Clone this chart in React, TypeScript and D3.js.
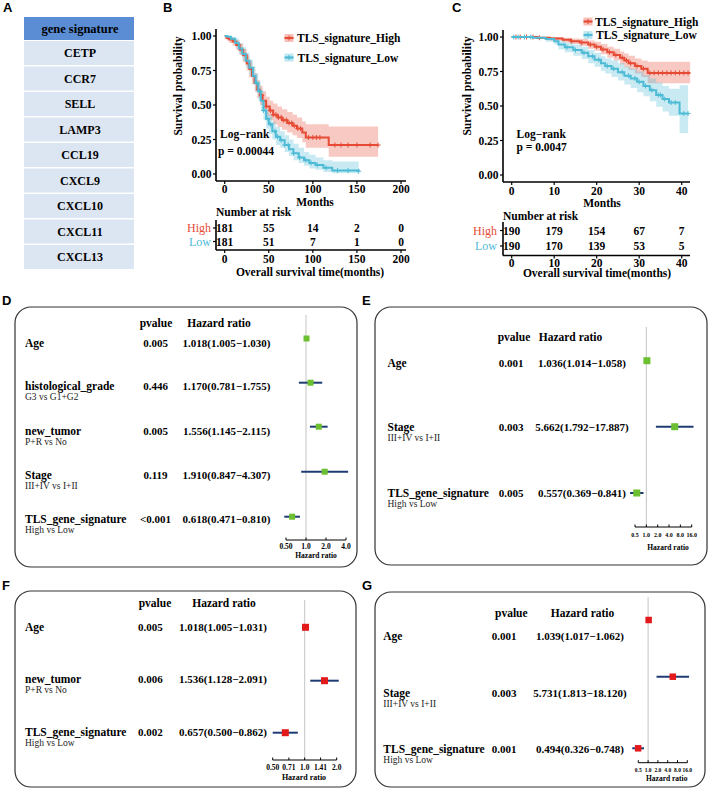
import React from "react";
import * as d3 from "d3";

type KMRow = [number, number, number, number]; // time, surv, lower, upper

// ---------- Panel A ----------
const geneHeader = "gene signature";
const genes = ["CETP", "CCR7", "SELL", "LAMP3", "CCL19", "CXCL9", "CXCL10", "CXCL11", "CXCL13"];

// ---------- Panel B (KM) ----------
const kmBHigh: KMRow[] = [
  [0, 1.0, 1.0, 1.0], [2, 0.985, 0.97, 1.0], [5, 0.975, 0.95, 0.995], [9, 0.96, 0.93, 0.985],
  [13, 0.935, 0.9, 0.97], [17, 0.9, 0.86, 0.945], [21, 0.86, 0.81, 0.905], [25, 0.8, 0.75, 0.86],
  [28, 0.76, 0.7, 0.82], [31, 0.71, 0.65, 0.775], [34, 0.66, 0.6, 0.73], [37, 0.61, 0.55, 0.68],
  [40, 0.57, 0.5, 0.64], [43, 0.53, 0.46, 0.6], [47, 0.49, 0.42, 0.56], [51, 0.46, 0.39, 0.53],
  [55, 0.43, 0.36, 0.51], [60, 0.41, 0.34, 0.49], [65, 0.39, 0.32, 0.47], [71, 0.37, 0.3, 0.45],
  [77, 0.35, 0.28, 0.43], [82, 0.33, 0.26, 0.41], [88, 0.3, 0.23, 0.38], [92, 0.265, 0.19, 0.36],
  [118, 0.21, 0.125, 0.345], [174, 0.21, 0.125, 0.345],
];
const kmBLow: KMRow[] = [
  [0, 1.0, 1.0, 1.0], [3, 0.995, 0.985, 1.0], [7, 0.98, 0.96, 0.995], [12, 0.95, 0.92, 0.98],
  [16, 0.91, 0.87, 0.95], [20, 0.87, 0.82, 0.92], [24, 0.82, 0.77, 0.88], [28, 0.77, 0.71, 0.83],
  [32, 0.71, 0.65, 0.78], [35, 0.66, 0.59, 0.73], [38, 0.6, 0.53, 0.67], [41, 0.53, 0.46, 0.6],
  [44, 0.46, 0.39, 0.53], [47, 0.4, 0.33, 0.47], [50, 0.36, 0.29, 0.43], [54, 0.31, 0.25, 0.38],
  [58, 0.27, 0.21, 0.34], [63, 0.245, 0.19, 0.31], [68, 0.21, 0.16, 0.28], [73, 0.18, 0.13, 0.25],
  [78, 0.15, 0.1, 0.22], [84, 0.12, 0.08, 0.19], [90, 0.1, 0.06, 0.16], [96, 0.08, 0.04, 0.14],
  [103, 0.065, 0.03, 0.12], [112, 0.045, 0.015, 0.1], [122, 0.025, 0.005, 0.09], [152, 0.02, 0.0, 0.085],
];
const kmBHighCensor = [42, 47, 52, 55, 58, 61, 64, 67, 70, 73, 76, 79, 83, 86, 95, 100, 104, 108, 125, 132, 140, 150, 165, 174];
const kmBLowCensor = [36, 40, 44, 49, 52, 57, 60, 64, 68, 72, 78, 85, 92, 98, 105, 115, 128, 140, 152];
const kmBTicks = [0, 50, 100, 150, 200];
const kmBRiskHigh = [181, 55, 14, 2, 0];
const kmBRiskLow = [181, 51, 7, 1, 0];
const kmBPValue = "p = 0.00044";

// ---------- Panel C (KM) ----------
const kmCHigh: KMRow[] = [
  [0, 1, 1, 1], [6, 0.995, 0.985, 1], [9, 0.99, 0.975, 1], [12, 0.98, 0.96, 0.995],
  [14, 0.97, 0.95, 0.99], [16, 0.96, 0.935, 0.985], [18, 0.945, 0.915, 0.975], [19.5, 0.93, 0.9, 0.965],
  [21, 0.91, 0.875, 0.95], [22.5, 0.89, 0.85, 0.93], [24, 0.87, 0.83, 0.915], [25.5, 0.85, 0.8, 0.895],
  [26.5, 0.83, 0.78, 0.88], [27.5, 0.81, 0.76, 0.865], [29, 0.79, 0.735, 0.845], [30.5, 0.77, 0.71, 0.83],
  [32, 0.74, 0.665, 0.82], [42, 0.74, 0.665, 0.82],
];
const kmCLow: KMRow[] = [
  [0, 1, 1, 1], [5, 0.995, 0.985, 1], [8, 0.985, 0.965, 1], [10, 0.97, 0.945, 0.99],
  [11, 0.945, 0.91, 0.975], [12.5, 0.925, 0.89, 0.96], [14.5, 0.905, 0.865, 0.945], [16.5, 0.885, 0.84, 0.93],
  [18, 0.86, 0.81, 0.905], [19.5, 0.835, 0.785, 0.885], [21, 0.81, 0.755, 0.86], [22, 0.79, 0.735, 0.845],
  [23.5, 0.77, 0.71, 0.83], [25, 0.745, 0.685, 0.81], [26.5, 0.72, 0.655, 0.785], [28, 0.7, 0.63, 0.77],
  [29.5, 0.675, 0.6, 0.75], [31, 0.645, 0.57, 0.725], [32.5, 0.615, 0.535, 0.7], [34, 0.58, 0.495, 0.67],
  [35.5, 0.55, 0.46, 0.645], [37, 0.525, 0.43, 0.625], [39.5, 0.445, 0.305, 0.65], [41.5, 0.445, 0.305, 0.65],
];
const kmCHighCensor = [1, 2, 3.5, 5, 6.5, 14, 16.5, 18.5, 20, 21.5, 23, 24.5, 26, 27, 28, 29.5, 31, 32.5, 33.5, 34.5, 35.5, 36.5, 37.5, 38.5, 39.5, 40.5, 41.5];
const kmCLowCensor = [0.5, 1.5, 3, 4.5, 13, 15, 17, 19, 20.5, 22.5, 24, 26, 27.5, 29, 30, 31.5, 33, 34.5, 35, 36, 37.5, 38.5, 40.5, 41.5];
const kmCTicks = [0, 10, 20, 30, 40];
const kmCRiskHigh = [190, 179, 154, 67, 7];
const kmCRiskLow = [190, 170, 139, 53, 5];
const kmCPValue = "p = 0.0047";

const survTicks = [0, 0.25, 0.5, 0.75, 1];
const legendLabels = ["TLS_signature_High", "TLS_signature_Low"];
const riskLabels = ["High", "Low"];

// ---------- Forest D ----------
const fDLabels = ["Age", "histological_grade", "new_tumor", "Stage", "TLS_gene_signature"];
const fDSub = ["", "G3 vs G1+G2", "P+R vs No", "III+IV vs I+II", "High vs Low"];
const fDP = ["0.005", "0.446", "0.005", "0.119", "<0.001"];
const fDHR = [1.018, 1.17, 1.556, 1.91, 0.618];
const fDLo = [1.005, 0.781, 1.145, 0.847, 0.471];
const fDHi = [1.03, 1.755, 2.115, 4.307, 0.81];
const fDTicks = [0.5, 1, 2, 4];
const fDTickLabels = ["0.50", "1.0", "2.0", "4.0"];

// ---------- Forest E ----------
const fELabels = ["Age", "Stage", "TLS_gene_signature"];
const fESub = ["", "III+IV vs I+II", "High vs Low"];
const fEP = ["0.001", "0.003", "0.005"];
const fEHR = [1.036, 5.662, 0.557];
const fELo = [1.014, 1.792, 0.369];
const fEHi = [1.058, 17.887, 0.841];
const fETicks = [0.5, 1, 2, 4, 8, 16];
const fETickLabels = ["0.5", "1.0", "2.0", "4.0", "8.0", "16.0"];

// ---------- Forest F ----------
const fFLabels = ["Age", "new_tumor", "TLS_gene_signature"];
const fFSub = ["", "P+R vs No", "High vs Low"];
const fFP = ["0.005", "0.006", "0.002"];
const fFHR = [1.018, 1.536, 0.657];
const fFLo = [1.005, 1.128, 0.5];
const fFHi = [1.031, 2.091, 0.862];
const fFTicks = [0.5, 0.71, 1, 1.41, 2];
const fFTickLabels = ["0.50", "0.71", "1.0", "1.41", "2.0"];

// ---------- Forest G ----------
const fGLabels = ["Age", "Stage", "TLS_gene_signature"];
const fGSub = ["", "III+IV vs I+II", "High vs Low"];
const fGP = ["0.001", "0.003", "0.001"];
const fGHR = [1.039, 5.731, 0.494];
const fGLo = [1.017, 1.813, 0.326];
const fGHi = [1.062, 18.12, 0.748];
const fGTicks = [0.5, 1, 2, 4, 8, 16];
const fGTickLabels = ["0.5", "1.0", "2.0", "4.0", "8.0", "16.0"];

const SERIF = "'Liberation Serif','Times New Roman',serif";
const SANS = "'Liberation Sans',Arial,sans-serif";
const RED = "#E64B35";
const BLUE = "#4DBBD5";
const GREEN = "#6CBF30";
const MRED = "#E31A1C";
const NAVY = "#1F3B73";

function stepAt(rows: KMRow[], t: number) {
  let s = rows[0][1];
  for (const r of rows) if (r[0] <= t) s = r[1];
  return s;
}

const fmt = (v: number) => v.toFixed(3);

function KM(props: any) {
  const c = props.cfg;
  const x = d3.scaleLinear().domain(c.xDomain).range(c.xRange);
  const y = d3.scaleLinear().domain([0, 1]).range(c.yRange);
  const line = d3.line<KMRow>().x((d) => x(d[0])).y((d) => y(d[1])).curve(d3.curveStepAfter);
  const area = d3.area<KMRow>().x((d) => x(d[0])).y0((d) => y(d[2])).y1((d) => y(d[3])).curve(d3.curveStepAfter);
  const groups = [
    { rows: props.high, cens: props.highC, color: RED },
    { rows: props.low, cens: props.lowC, color: BLUE },
  ];
  const T = { fontFamily: SERIF, fontWeight: "bold", fontSize: 11.5 } as any;
  const risks = [props.riskHigh, props.riskLow];
  return (
    <g>
      {groups.map((g, i) => (
        <path key={"a" + i} d={area(g.rows) || ""} fill={g.color} opacity={0.3} />
      ))}
      {groups.map((g, i) => (
        <g key={"l" + i}>
          <path d={line(g.rows) || ""} fill="none" stroke={g.color} strokeWidth={2} />
          {g.cens.map((t: number, k: number) => {
            const cx = x(t), cy = y(stepAt(g.rows, t));
            return (
              <path key={k} d={`M${cx - 2.5},${cy}H${cx + 2.5}M${cx},${cy - 2.5}V${cy + 2.5}`} stroke={g.color} strokeWidth={1} />
            );
          })}
        </g>
      ))}
      {/* axes */}
      <line x1={c.axisLeft} x2={c.axisLeft} y1={c.yTop} y2={c.axisY} stroke="#000" strokeWidth={1.6} />
      <line x1={c.axisLeft} x2={c.axisRight} y1={c.axisY} y2={c.axisY} stroke="#000" strokeWidth={1.6} />
      {survTicks.map((v) => (
        <g key={v}>
          <line x1={c.axisLeft - 3} x2={c.axisLeft} y1={y(v)} y2={y(v)} stroke="#000" strokeWidth={1.2} />
          <text x={c.axisLeft - 4.5} y={y(v)} textAnchor="end" dominantBaseline="central" {...T}>
            {v.toFixed(2)}
          </text>
        </g>
      ))}
      {props.ticks.map((v: number) => (
        <g key={v}>
          <line x1={x(v)} x2={x(v)} y1={c.axisY} y2={c.axisY + 3} stroke="#000" strokeWidth={1.2} />
          <text x={x(v)} y={c.tickLabelY} textAnchor="middle" dominantBaseline="central" {...T}>
            {v}
          </text>
        </g>
      ))}
      <text x={c.monthsX} y={c.monthsY} textAnchor="middle" dominantBaseline="central" {...T}>Months</text>
      <text transform={`translate(${c.ylabX},${c.ylabY}) rotate(-90)`} textAnchor="middle" dominantBaseline="central" {...T}>
        Survival probability
      </text>
      <text x={c.logX} y={c.logY} dominantBaseline="central" {...T}>Log−rank</text>
      <text x={c.pX} y={c.pY} dominantBaseline="central" {...T}>{props.pValue}</text>
      {/* legend */}
      {legendLabels.map((lab, i) => {
        const col = i === 0 ? RED : BLUE;
        const ly = c.legY[i];
        return (
          <g key={lab}>
            <rect x={c.legX - 4.5} y={ly - 4} width={9} height={8} fill={col} opacity={0.35} />
            <line x1={c.legX - 4.5} x2={c.legX + 4.5} y1={ly} y2={ly} stroke={col} strokeWidth={2.2} />
            <path d={`M${c.legX},${ly - 2.5}V${ly + 2.5}`} stroke={col} strokeWidth={1} />
            <text x={c.legTX + (i === 1 ? c.legTX2 : 0)} y={ly} dominantBaseline="central" {...T}>{lab}</text>
          </g>
        );
      })}
      {/* risk table */}
      <text x={c.riskTitleX} y={c.riskTitleY} dominantBaseline="central" {...T}>Number at risk</text>
      <line x1={c.axisLeft} x2={c.axisLeft} y1={c.riskTop} y2={c.riskAxisY} stroke="#000" strokeWidth={1.6} />
      <line x1={c.axisLeft} x2={c.axisRight} y1={c.riskAxisY} y2={c.riskAxisY} stroke="#000" strokeWidth={1.6} />
      {riskLabels.map((lab, i) => (
        <g key={lab}>
          <line x1={c.axisLeft - 3} x2={c.axisLeft} y1={c.riskRowY[i]} y2={c.riskRowY[i]} stroke="#000" strokeWidth={1.2} />
          <text x={c.riskLabelX} y={c.riskRowY[i]} textAnchor="end" dominantBaseline="central" fontFamily={SERIF} fontSize={12} fill={i === 0 ? RED : BLUE}>
            {lab}
          </text>
          {risks[i].map((n: number, k: number) => (
            <text key={k} x={x(props.ticks[k])} y={c.riskRowY[i]} textAnchor="middle" dominantBaseline="central" {...T}>
              {n}
            </text>
          ))}
        </g>
      ))}
      {props.ticks.map((v: number) => (
        <g key={"r" + v}>
          <line x1={x(v)} x2={x(v)} y1={c.riskAxisY} y2={c.riskAxisY + 3} stroke="#000" strokeWidth={1.2} />
          <text x={x(v)} y={c.riskTickY} textAnchor="middle" dominantBaseline="central" {...T}>{v}</text>
        </g>
      ))}
      <text x={c.overallX} y={c.overallY} textAnchor="middle" dominantBaseline="central" {...T}>
        Overall survival time(months)
      </text>
    </g>
  );
}

function Forest(props: any) {
  const L = props.L;
  const ticks: number[] = props.ticks;
  const x = d3.scaleLog().base(2).domain([ticks[0], ticks[ticks.length - 1]]).range(L.axisRange);
  const B = { fontFamily: SERIF, fontWeight: "bold" } as any;
  const [bx0, by0, bx1, by1] = L.box;
  const ms = L.markerSize;
  return (
    <g>
      <rect x={bx0} y={by0} width={bx1 - bx0} height={by1 - by0} rx={16} fill="#fff" stroke="#333" strokeWidth={1.2} />
      <text x={L.pvHeadX} y={L.headY} textAnchor="middle" dominantBaseline="central" fontSize={11.5} {...B}>pvalue</text>
      <text x={L.hrHeadX} y={L.headY} textAnchor="middle" dominantBaseline="central" fontSize={11.5} {...B}>Hazard ratio</text>
      <line x1={x(1)} x2={x(1)} y1={L.refTop} y2={L.axisY} stroke="#c4c4c4" strokeWidth={1} />
      {props.labels.map((lab: string, i: number) => (
        <g key={lab}>
          <text x={L.labelX} y={L.rowY[i]} dominantBaseline="central" fontSize={11.5} {...B}>{lab}</text>
          {props.sub[i] && (
            <text x={L.labelX} y={L.rowY[i] + 11} dominantBaseline="central" fontSize={9.5} fontFamily={SERIF} fill="#222">
              {props.sub[i]}
            </text>
          )}
          <text x={L.pvX} y={L.rowY[i]} textAnchor="middle" dominantBaseline="central" fontSize={11} {...B}>{props.p[i]}</text>
          <text x={L.hrX} y={L.rowY[i]} textAnchor="middle" dominantBaseline="central" fontSize={11} {...B}>
            {`${fmt(props.hr[i])}(${fmt(props.lo[i])}−${fmt(props.hi[i])})`}
          </text>
          <line x1={x(props.lo[i])} x2={x(props.hi[i])} y1={L.markerY[i]} y2={L.markerY[i]} stroke={NAVY} strokeWidth={2} />
          <rect x={x(props.hr[i]) - ms / 2} y={L.markerY[i] - ms / 2} width={ms} height={ms} fill={L.markerColor} />
        </g>
      ))}
      <line x1={L.axisRange[0]} x2={L.axisRange[1]} y1={L.axisY} y2={L.axisY} stroke="#000" strokeWidth={1} />
      {ticks.map((t, i) => (
        <g key={t}>
          <line x1={x(t)} x2={x(t)} y1={L.axisY - 2.5} y2={L.axisY} stroke="#000" strokeWidth={1} />
          <text x={x(t)} y={L.tickLabY} textAnchor="middle" dominantBaseline="central" fontSize={L.tickFont} {...B}>
            {props.tickLabels[i]}
          </text>
        </g>
      ))}
      <text x={L.titleX} y={L.titleY} textAnchor="middle" dominantBaseline="central" fontSize={L.titleFont} {...B}>Hazard ratio</text>
    </g>
  );
}

const cfgB = {
  xDomain: [0, 200], xRange: [224.7, 401], yRange: [174, 36], axisLeft: 216, axisRight: 406, yTop: 29, axisY: 181,
  tickLabelY: 188.5, monthsX: 315, monthsY: 201.5, ylabX: 178, ylabY: 86, logX: 220, logY: 133.5, pX: 218, pY: 150.5,
  legX: 289, legY: [38, 57.5], legTX: 297, legTX2: 0.5,
  riskTitleX: 216, riskTitleY: 211.5, riskTop: 220, riskAxisY: 250, riskRowY: [228, 241.5], riskLabelX: 211,
  riskTickY: 258.5, overallX: 310, overallY: 272,
};
const cfgC = {
  xDomain: [0, 40], xRange: [511.7, 681.7], yRange: [175, 37], axisLeft: 503, axisRight: 690, yTop: 30, axisY: 182,
  tickLabelY: 190.5, monthsX: 602, monthsY: 202.5, ylabX: 467, ylabY: 86, logX: 516.5, logY: 133.5, pX: 516.5, pY: 146.5,
  legX: 588, legY: [21.5, 35], legTX: 595, legTX2: 1,
  riskTitleX: 503, riskTitleY: 215.5, riskTop: 222, riskAxisY: 255.5, riskRowY: [230.5, 246], riskLabelX: 497,
  riskTickY: 262.5, overallX: 597, overallY: 273,
};

const LD = {
  box: [15, 307, 357, 567], headY: 323, pvHeadX: 156, hrHeadX: 219, labelX: 25,
  rowY: [343, 386, 431, 475, 519], markerY: [338.5, 382.7, 426.7, 471.7, 516.7], pvX: 155.5, hrX: 226.5,
  axisRange: [286, 346], refTop: 315, axisY: 540, tickLabY: 546, titleY: 555, titleX: 316,
  markerColor: GREEN, markerSize: 6, tickFont: 7.5, titleFont: 7.5,
};
const LE = {
  box: [375, 307, 707, 565], headY: 337, pvHeadX: 514, hrHeadX: 570.5, labelX: 387.5,
  rowY: [363, 427, 493], markerY: [360.7, 426.7, 493], pvX: 511, hrX: 582,
  axisRange: [635, 691.7], refTop: 327, axisY: 527, tickLabY: 535, titleY: 547, titleX: 668,
  markerColor: GREEN, markerSize: 7, tickFont: 6, titleFont: 7.5,
};
const LF = {
  box: [15, 591, 356, 787], headY: 603, pvHeadX: 155, hrHeadX: 224, labelX: 25,
  rowY: [627, 679, 732], markerY: [627.3, 680.7, 732.7], pvX: 150.3, hrX: 223,
  axisRange: [272.7, 336.7], refTop: 600, axisY: 760, tickLabY: 767.5, titleY: 777, titleX: 304,
  markerColor: MRED, markerSize: 7, tickFont: 7.5, titleFont: 8,
};
const LG = {
  box: [375, 592, 705, 787], headY: 613, pvHeadX: 511.3, hrHeadX: 582.5, labelX: 383.3,
  rowY: [636, 692.7, 749.3], markerY: [620, 676.7, 748.3], pvX: 504.2, hrX: 580,
  axisRange: [638.3, 687.3], refTop: 597, axisY: 762.7, tickLabY: 769.5, titleY: 778.5, titleX: 666.7,
  markerColor: MRED, markerSize: 6.5, tickFont: 5.5, titleFont: 7.5,
};

export default function App() {
  const rowH = 25.5;
  return (
    <div style={{ position: "absolute", left: 0, top: 0 }}>
      <svg width={708} height={788} viewBox="0 0 708 788" style={{ display: "block", background: "#fff" }}>
        <rect width={708} height={788} fill="#fff" />
        {/* panel letters */}
        {[
          ["A", 3, 12], ["B", 163, 12], ["C", 452, 12], ["D", 2, 305], ["E", 362, 305], ["F", 2, 590], ["G", 362, 590],
        ].map(([t, x, y]) => (
          <text key={t as string} x={x as number} y={y as number} fontFamily={SANS} fontWeight="bold" fontSize={13}>
            {t}
          </text>
        ))}
        {/* Panel A table */}
        <rect x={24} y={17} width={110} height={23} fill="#5B8DD4" />
        <text x={80} y={28.5} textAnchor="middle" dominantBaseline="central" fontFamily={SERIF} fontWeight="bold" fontSize={12.5}>
          {geneHeader}
        </text>
        {genes.map((g, i) => (
          <g key={g}>
            <rect x={24} y={41 + i * rowH} width={110} height={rowH - 1.5} fill="#DCE6F2" />
            <text x={80} y={41 + i * rowH + (rowH - 1.5) / 2} textAnchor="middle" dominantBaseline="central" fontFamily={SERIF} fontWeight="bold" fontSize={12}>
              {g}
            </text>
          </g>
        ))}
        <KM cfg={cfgB} high={kmBHigh} low={kmBLow} highC={kmBHighCensor} lowC={kmBLowCensor} ticks={kmBTicks}
          riskHigh={kmBRiskHigh} riskLow={kmBRiskLow} pValue={kmBPValue} />
        <KM cfg={cfgC} high={kmCHigh} low={kmCLow} highC={kmCHighCensor} lowC={kmCLowCensor} ticks={kmCTicks}
          riskHigh={kmCRiskHigh} riskLow={kmCRiskLow} pValue={kmCPValue} />
        <Forest L={LD} labels={fDLabels} sub={fDSub} p={fDP} hr={fDHR} lo={fDLo} hi={fDHi} ticks={fDTicks} tickLabels={fDTickLabels} />
        <Forest L={LE} labels={fELabels} sub={fESub} p={fEP} hr={fEHR} lo={fELo} hi={fEHi} ticks={fETicks} tickLabels={fETickLabels} />
        <Forest L={LF} labels={fFLabels} sub={fFSub} p={fFP} hr={fFHR} lo={fFLo} hi={fFHi} ticks={fFTicks} tickLabels={fFTickLabels} />
        <Forest L={LG} labels={fGLabels} sub={fGSub} p={fGP} hr={fGHR} lo={fGLo} hi={fGHi} ticks={fGTicks} tickLabels={fGTickLabels} />
      </svg>
    </div>
  );
}
